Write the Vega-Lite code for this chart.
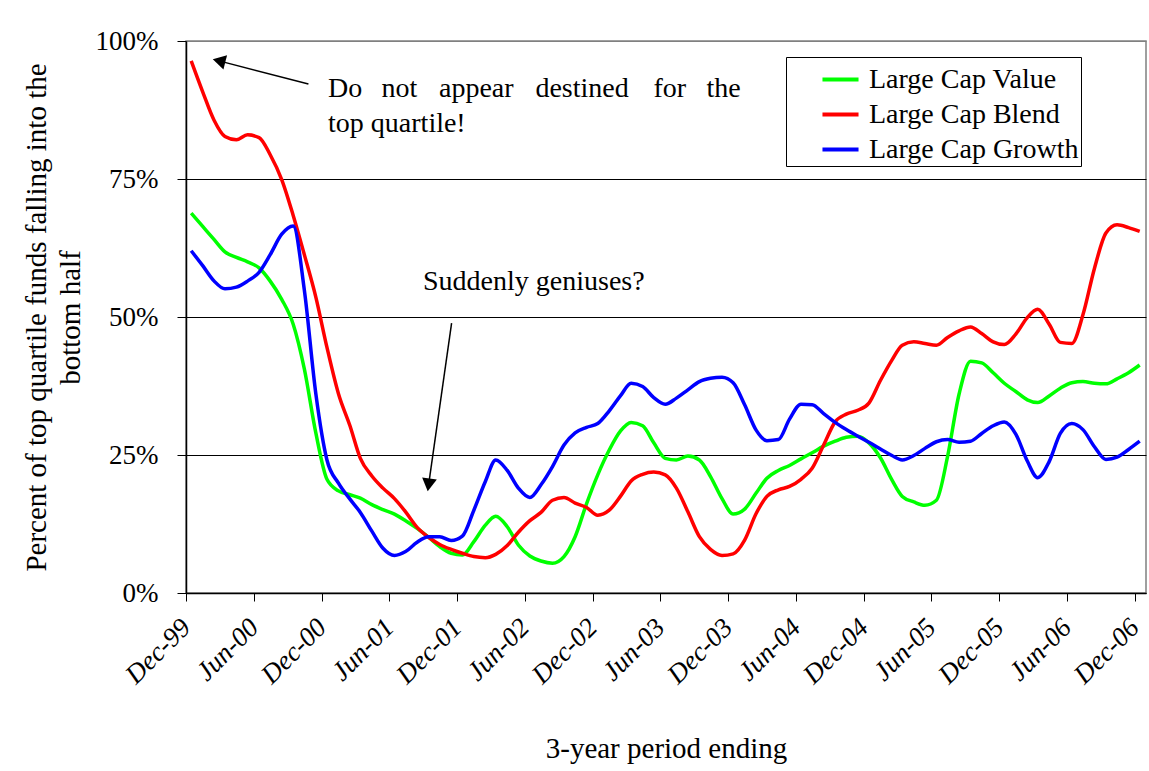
{
  "$schema": "https://vega.github.io/schema/vega-lite/v6.json",
  "width": 960,
  "height": 552,
  "autosize": {"type": "none"},
  "padding": {"left": 186, "top": 41, "right": 3, "bottom": 178},
  "background": "white",
  "config": {
    "font": "Liberation Serif, Times New Roman, serif",
    "view": {"stroke": "#808080", "strokeWidth": 1.5},
    "axis": {"labelColor": "black", "titleColor": "black", "domainColor": "black", "tickColor": "black", "labelFont": "Liberation Serif, Times New Roman, serif", "titleFont": "Liberation Serif, Times New Roman, serif", "titleFontWeight": "normal"},
    "legend": {
      "orient": "none", "legendX": 600, "legendY": 16,
      "strokeColor": "black", "fillColor": "white", "padding": 2,
      "symbolType": "stroke", "symbolStrokeWidth": 4, "symbolSize": 1300, "symbolOffset": 32,
      "labelFont": "Liberation Serif, Times New Roman, serif", "labelFontSize": 28, "labelColor": "black", "labelOffset": 8, "labelLimit": 400,
      "rowPadding": 0
    }
  },
  "datasets": {
    "series": [
      {"date": "1999-12-15", "Large Cap Value": 68.8, "Large Cap Blend": 96.4, "Large Cap Growth": 62.0},
      {"date": "2000-01-15", "Large Cap Value": 66.4, "Large Cap Blend": 90.8, "Large Cap Growth": 59.3},
      {"date": "2000-02-15", "Large Cap Value": 64.0, "Large Cap Blend": 85.6, "Large Cap Growth": 56.5},
      {"date": "2000-03-15", "Large Cap Value": 61.8, "Large Cap Blend": 82.7, "Large Cap Growth": 55.1},
      {"date": "2000-04-15", "Large Cap Value": 60.8, "Large Cap Blend": 82.1, "Large Cap Growth": 55.4},
      {"date": "2000-05-15", "Large Cap Value": 60.0, "Large Cap Blend": 83.0, "Large Cap Growth": 56.5},
      {"date": "2000-06-15", "Large Cap Value": 58.9, "Large Cap Blend": 82.5, "Large Cap Growth": 58.1},
      {"date": "2000-07-15", "Large Cap Value": 56.5, "Large Cap Blend": 79.4, "Large Cap Growth": 61.3},
      {"date": "2000-08-15", "Large Cap Value": 53.2, "Large Cap Blend": 74.9, "Large Cap Growth": 65.0},
      {"date": "2000-09-15", "Large Cap Value": 48.7, "Large Cap Blend": 68.4, "Large Cap Growth": 66.5},
      {"date": "2000-10-15", "Large Cap Value": 40.6, "Large Cap Blend": 61.3, "Large Cap Growth": 54.9},
      {"date": "2000-11-15", "Large Cap Value": 29.0, "Large Cap Blend": 53.6, "Large Cap Growth": 36.1},
      {"date": "2000-12-15", "Large Cap Value": 20.6, "Large Cap Blend": 44.5, "Large Cap Growth": 24.1},
      {"date": "2001-01-15", "Large Cap Value": 18.5, "Large Cap Blend": 36.1, "Large Cap Growth": 19.9},
      {"date": "2001-02-15", "Large Cap Value": 17.8, "Large Cap Blend": 30.3, "Large Cap Growth": 17.0},
      {"date": "2001-03-15", "Large Cap Value": 17.2, "Large Cap Blend": 24.4, "Large Cap Growth": 14.6},
      {"date": "2001-04-15", "Large Cap Value": 16.0, "Large Cap Blend": 21.2, "Large Cap Growth": 11.2},
      {"date": "2001-05-15", "Large Cap Value": 15.1, "Large Cap Blend": 19.0, "Large Cap Growth": 8.1},
      {"date": "2001-06-15", "Large Cap Value": 14.3, "Large Cap Blend": 17.1, "Large Cap Growth": 6.8},
      {"date": "2001-07-15", "Large Cap Value": 13.1, "Large Cap Blend": 14.7, "Large Cap Growth": 7.5},
      {"date": "2001-08-15", "Large Cap Value": 11.7, "Large Cap Blend": 11.9, "Large Cap Growth": 9.2},
      {"date": "2001-09-15", "Large Cap Value": 10.1, "Large Cap Blend": 10.1, "Large Cap Growth": 10.2},
      {"date": "2001-10-15", "Large Cap Value": 8.4, "Large Cap Blend": 8.8, "Large Cap Growth": 10.2},
      {"date": "2001-11-15", "Large Cap Value": 7.2, "Large Cap Blend": 7.9, "Large Cap Growth": 9.5},
      {"date": "2001-12-15", "Large Cap Value": 6.9, "Large Cap Blend": 7.2, "Large Cap Growth": 10.3},
      {"date": "2002-01-15", "Large Cap Value": 9.3, "Large Cap Blend": 6.6, "Large Cap Growth": 15.0},
      {"date": "2002-02-15", "Large Cap Value": 12.3, "Large Cap Blend": 6.4, "Large Cap Growth": 20.2},
      {"date": "2002-03-15", "Large Cap Value": 13.9, "Large Cap Blend": 7.0, "Large Cap Growth": 24.1},
      {"date": "2002-04-15", "Large Cap Value": 12.0, "Large Cap Blend": 8.6, "Large Cap Growth": 22.2},
      {"date": "2002-05-15", "Large Cap Value": 8.7, "Large Cap Blend": 11.0, "Large Cap Growth": 19.0},
      {"date": "2002-06-15", "Large Cap Value": 6.7, "Large Cap Blend": 13.1, "Large Cap Growth": 17.3},
      {"date": "2002-07-15", "Large Cap Value": 5.8, "Large Cap Blend": 14.6, "Large Cap Growth": 19.6},
      {"date": "2002-08-15", "Large Cap Value": 5.4, "Large Cap Blend": 16.8, "Large Cap Growth": 22.9},
      {"date": "2002-09-15", "Large Cap Value": 6.6, "Large Cap Blend": 17.3, "Large Cap Growth": 26.8},
      {"date": "2002-10-15", "Large Cap Value": 10.2, "Large Cap Blend": 16.3, "Large Cap Growth": 29.0},
      {"date": "2002-11-15", "Large Cap Value": 16.2, "Large Cap Blend": 15.5, "Large Cap Growth": 30.0},
      {"date": "2002-12-15", "Large Cap Value": 21.4, "Large Cap Blend": 14.1, "Large Cap Growth": 30.7},
      {"date": "2003-01-15", "Large Cap Value": 25.9, "Large Cap Blend": 15.0, "Large Cap Growth": 33.0},
      {"date": "2003-02-15", "Large Cap Value": 29.4, "Large Cap Blend": 17.6, "Large Cap Growth": 35.8},
      {"date": "2003-03-15", "Large Cap Value": 30.9, "Large Cap Blend": 20.3, "Large Cap Growth": 38.0},
      {"date": "2003-04-15", "Large Cap Value": 30.3, "Large Cap Blend": 21.5, "Large Cap Growth": 37.4},
      {"date": "2003-05-15", "Large Cap Value": 27.2, "Large Cap Blend": 21.9, "Large Cap Growth": 35.4},
      {"date": "2003-06-15", "Large Cap Value": 24.4, "Large Cap Blend": 21.4, "Large Cap Growth": 34.2},
      {"date": "2003-07-15", "Large Cap Value": 24.1, "Large Cap Blend": 19.0, "Large Cap Growth": 35.3},
      {"date": "2003-08-15", "Large Cap Value": 24.8, "Large Cap Blend": 14.7, "Large Cap Growth": 36.8},
      {"date": "2003-09-15", "Large Cap Value": 24.1, "Large Cap Blend": 10.2, "Large Cap Growth": 38.3},
      {"date": "2003-10-15", "Large Cap Value": 21.1, "Large Cap Blend": 7.9, "Large Cap Growth": 38.9},
      {"date": "2003-11-15", "Large Cap Value": 17.1, "Large Cap Blend": 6.8, "Large Cap Growth": 39.1},
      {"date": "2003-12-15", "Large Cap Value": 14.3, "Large Cap Blend": 7.1, "Large Cap Growth": 38.1},
      {"date": "2004-01-15", "Large Cap Value": 15.2, "Large Cap Blend": 9.6, "Large Cap Growth": 34.1},
      {"date": "2004-02-15", "Large Cap Value": 18.1, "Large Cap Blend": 14.4, "Large Cap Growth": 29.5},
      {"date": "2004-03-15", "Large Cap Value": 20.8, "Large Cap Blend": 17.5, "Large Cap Growth": 27.6},
      {"date": "2004-04-15", "Large Cap Value": 22.2, "Large Cap Blend": 18.7, "Large Cap Growth": 27.8},
      {"date": "2004-05-15", "Large Cap Value": 23.1, "Large Cap Blend": 19.3, "Large Cap Growth": 31.5},
      {"date": "2004-06-15", "Large Cap Value": 24.3, "Large Cap Blend": 20.6, "Large Cap Growth": 34.2},
      {"date": "2004-07-15", "Large Cap Value": 25.4, "Large Cap Blend": 22.6, "Large Cap Growth": 34.1},
      {"date": "2004-08-15", "Large Cap Value": 26.6, "Large Cap Blend": 26.8, "Large Cap Growth": 32.5},
      {"date": "2004-09-15", "Large Cap Value": 27.5, "Large Cap Blend": 31.0, "Large Cap Growth": 30.9},
      {"date": "2004-10-15", "Large Cap Value": 28.2, "Large Cap Blend": 32.4, "Large Cap Growth": 29.6},
      {"date": "2004-11-15", "Large Cap Value": 28.4, "Large Cap Blend": 33.1, "Large Cap Growth": 28.4},
      {"date": "2004-12-15", "Large Cap Value": 27.2, "Large Cap Blend": 34.4, "Large Cap Growth": 27.3},
      {"date": "2005-01-15", "Large Cap Value": 24.5, "Large Cap Blend": 38.5, "Large Cap Growth": 26.1},
      {"date": "2005-02-15", "Large Cap Value": 20.5, "Large Cap Blend": 42.2, "Large Cap Growth": 24.9},
      {"date": "2005-03-15", "Large Cap Value": 17.5, "Large Cap Blend": 44.9, "Large Cap Growth": 24.1},
      {"date": "2005-04-15", "Large Cap Value": 16.5, "Large Cap Blend": 45.5, "Large Cap Growth": 24.9},
      {"date": "2005-05-15", "Large Cap Value": 15.9, "Large Cap Blend": 45.2, "Large Cap Growth": 26.2},
      {"date": "2005-06-15", "Large Cap Value": 16.8, "Large Cap Blend": 44.9, "Large Cap Growth": 27.4},
      {"date": "2005-07-15", "Large Cap Value": 24.7, "Large Cap Blend": 46.3, "Large Cap Growth": 27.8},
      {"date": "2005-08-15", "Large Cap Value": 36.0, "Large Cap Blend": 47.5, "Large Cap Growth": 27.3},
      {"date": "2005-09-15", "Large Cap Value": 42.0, "Large Cap Blend": 48.2, "Large Cap Growth": 27.5},
      {"date": "2005-10-15", "Large Cap Value": 41.7, "Large Cap Blend": 47.0, "Large Cap Growth": 28.9},
      {"date": "2005-11-15", "Large Cap Value": 39.9, "Large Cap Blend": 45.5, "Large Cap Growth": 30.3},
      {"date": "2005-12-15", "Large Cap Value": 38.0, "Large Cap Blend": 45.0, "Large Cap Growth": 31.0},
      {"date": "2006-01-15", "Large Cap Value": 36.5, "Large Cap Blend": 46.9, "Large Cap Growth": 28.8},
      {"date": "2006-02-15", "Large Cap Value": 35.0, "Large Cap Blend": 49.9, "Large Cap Growth": 23.9},
      {"date": "2006-03-15", "Large Cap Value": 34.5, "Large Cap Blend": 51.4, "Large Cap Growth": 20.9},
      {"date": "2006-04-15", "Large Cap Value": 35.7, "Large Cap Blend": 48.7, "Large Cap Growth": 23.8},
      {"date": "2006-05-15", "Large Cap Value": 37.1, "Large Cap Blend": 45.4, "Large Cap Growth": 28.9},
      {"date": "2006-06-15", "Large Cap Value": 38.1, "Large Cap Blend": 45.2, "Large Cap Growth": 30.7},
      {"date": "2006-07-15", "Large Cap Value": 38.3, "Large Cap Blend": 50.4, "Large Cap Growth": 29.6},
      {"date": "2006-08-15", "Large Cap Value": 38.0, "Large Cap Blend": 58.8, "Large Cap Growth": 26.5},
      {"date": "2006-09-15", "Large Cap Value": 37.9, "Large Cap Blend": 65.2, "Large Cap Growth": 24.2},
      {"date": "2006-10-15", "Large Cap Value": 38.8, "Large Cap Blend": 66.7, "Large Cap Growth": 24.6},
      {"date": "2006-11-15", "Large Cap Value": 39.9, "Large Cap Blend": 66.2, "Large Cap Growth": 26.0},
      {"date": "2006-12-15", "Large Cap Value": 41.3, "Large Cap Blend": 65.5, "Large Cap Growth": 27.5}
    ],
    "notes": [
      {"date": "2000-12-18", "pct": 89.9, "text": "Do"},
      {"date": "2001-05-11", "pct": 89.9, "text": "not"},
      {"date": "2001-10-13", "pct": 89.9, "text": "appear"},
      {"date": "2002-06-30", "pct": 89.9, "text": "destined"},
      {"date": "2003-05-14", "pct": 89.9, "text": "for"},
      {"date": "2003-10-04", "pct": 89.9, "text": "the"},
      {"date": "2000-12-18", "pct": 83.6, "text": "top quartile!"},
      {"date": "2001-08-31", "pct": 54.9, "text": "Suddenly geniuses?"}
    ],
    "arrows": [
      {"date": "2000-10-26", "pct": 92.2, "date2": "2000-02-28", "pct2": 96.4},
      {"date": "2001-11-16", "pct": 48.9, "date2": "2001-09-15", "pct2": 19.6}
    ],
    "head1": [{"date": "2000-02-28", "pct": 96.4}],
    "head2": [{"date": "2001-09-15", "pct": 19.6}]
  },
  "layer": [
    {
      "data": {"name": "series"},
      "transform": [{"fold": ["Large Cap Value", "Large Cap Blend", "Large Cap Growth"], "as": ["series", "pct"]}],
      "mark": {"type": "line", "strokeWidth": 3.5, "interpolate": "monotone", "clip": true},
      "encoding": {
        "x": {
          "field": "date", "type": "temporal",
          "scale": {"type": "utc", "domain": [{"year": 1999, "month": 12, "date": 1, "utc": true}, {"year": 2007, "month": 1, "date": 1, "utc": true}]},
          "axis": {
            "title": "3-year period ending", "titleFontSize": 29, "titleY": 164, "titleBaseline": "alphabetic",
            "values": [
              {"year": 1999, "month": 12, "date": 1, "utc": true},
              {"year": 2000, "month": 6, "date": 1, "utc": true},
              {"year": 2000, "month": 12, "date": 1, "utc": true},
              {"year": 2001, "month": 6, "date": 1, "utc": true},
              {"year": 2001, "month": 12, "date": 1, "utc": true},
              {"year": 2002, "month": 6, "date": 1, "utc": true},
              {"year": 2002, "month": 12, "date": 1, "utc": true},
              {"year": 2003, "month": 6, "date": 1, "utc": true},
              {"year": 2003, "month": 12, "date": 1, "utc": true},
              {"year": 2004, "month": 6, "date": 1, "utc": true},
              {"year": 2004, "month": 12, "date": 1, "utc": true},
              {"year": 2005, "month": 6, "date": 1, "utc": true},
              {"year": 2005, "month": 12, "date": 1, "utc": true},
              {"year": 2006, "month": 6, "date": 1, "utc": true},
              {"year": 2006, "month": 12, "date": 1, "utc": true}
            ],
            "format": "%b-%y", "labelAngle": -45, "labelAlign": "right", "labelBaseline": "middle",
            "labelFontSize": 27, "labelFontStyle": "italic", "labelPadding": 22, "labelOverlap": false, "labelFlush": false,
            "tickSize": 8, "tickWidth": 1, "domainWidth": 1.5, "grid": false
          }
        },
        "y": {
          "field": "pct", "type": "quantitative",
          "scale": {"domain": [0, 100]},
          "axis": {
            "title": ["Percent of top quartile funds falling into the", "bottom half"],
            "titleFontSize": 29, "titleAngle": -90, "titleAlign": "center", "titleBaseline": "alphabetic",
            "titleX": -141, "titleY": 276, "titleLineHeight": 34,
            "values": [0, 25, 50, 75, 100], "labelExpr": "datum.value + '%'",
            "labelFontSize": 27, "labelPadding": 19, "tickSize": 9, "tickWidth": 1, "domainWidth": 1.5,
            "grid": true, "gridWidth": 1,
            "gridColor": {"condition": {"test": "datum.value == 100", "value": "#808080"}, "value": "black"}
          }
        },
        "color": {
          "field": "series", "type": "nominal",
          "scale": {"domain": ["Large Cap Value", "Large Cap Blend", "Large Cap Growth"], "range": ["#00ff00", "#ff0000", "#0000ff"]},
          "legend": {"title": null}
        }
      }
    },
    {
      "data": {"name": "notes"},
      "mark": {"type": "text", "align": "left", "baseline": "alphabetic", "font": "Liberation Serif, Times New Roman, serif", "fontSize": 28, "color": "black"},
      "encoding": {
        "x": {"field": "date", "type": "temporal"},
        "y": {"field": "pct", "type": "quantitative"},
        "text": {"field": "text"}
      }
    },
    {
      "data": {"name": "arrows"},
      "mark": {"type": "rule", "color": "black", "strokeWidth": 1.5},
      "encoding": {
        "x": {"field": "date", "type": "temporal"},
        "y": {"field": "pct", "type": "quantitative"},
        "x2": {"field": "date2"},
        "y2": {"field": "pct2"}
      }
    },
    {
      "data": {"name": "head1"},
      "mark": {"type": "point", "shape": "triangle-up", "filled": true, "color": "black", "size": 220, "angle": 284, "opacity": 1},
      "encoding": {
        "x": {"field": "date", "type": "temporal"},
        "y": {"field": "pct", "type": "quantitative"}
      }
    },
    {
      "data": {"name": "head2"},
      "mark": {"type": "point", "shape": "triangle-up", "filled": true, "color": "black", "size": 220, "angle": 188, "opacity": 1},
      "encoding": {
        "x": {"field": "date", "type": "temporal"},
        "y": {"field": "pct", "type": "quantitative"}
      }
    }
  ]
}
